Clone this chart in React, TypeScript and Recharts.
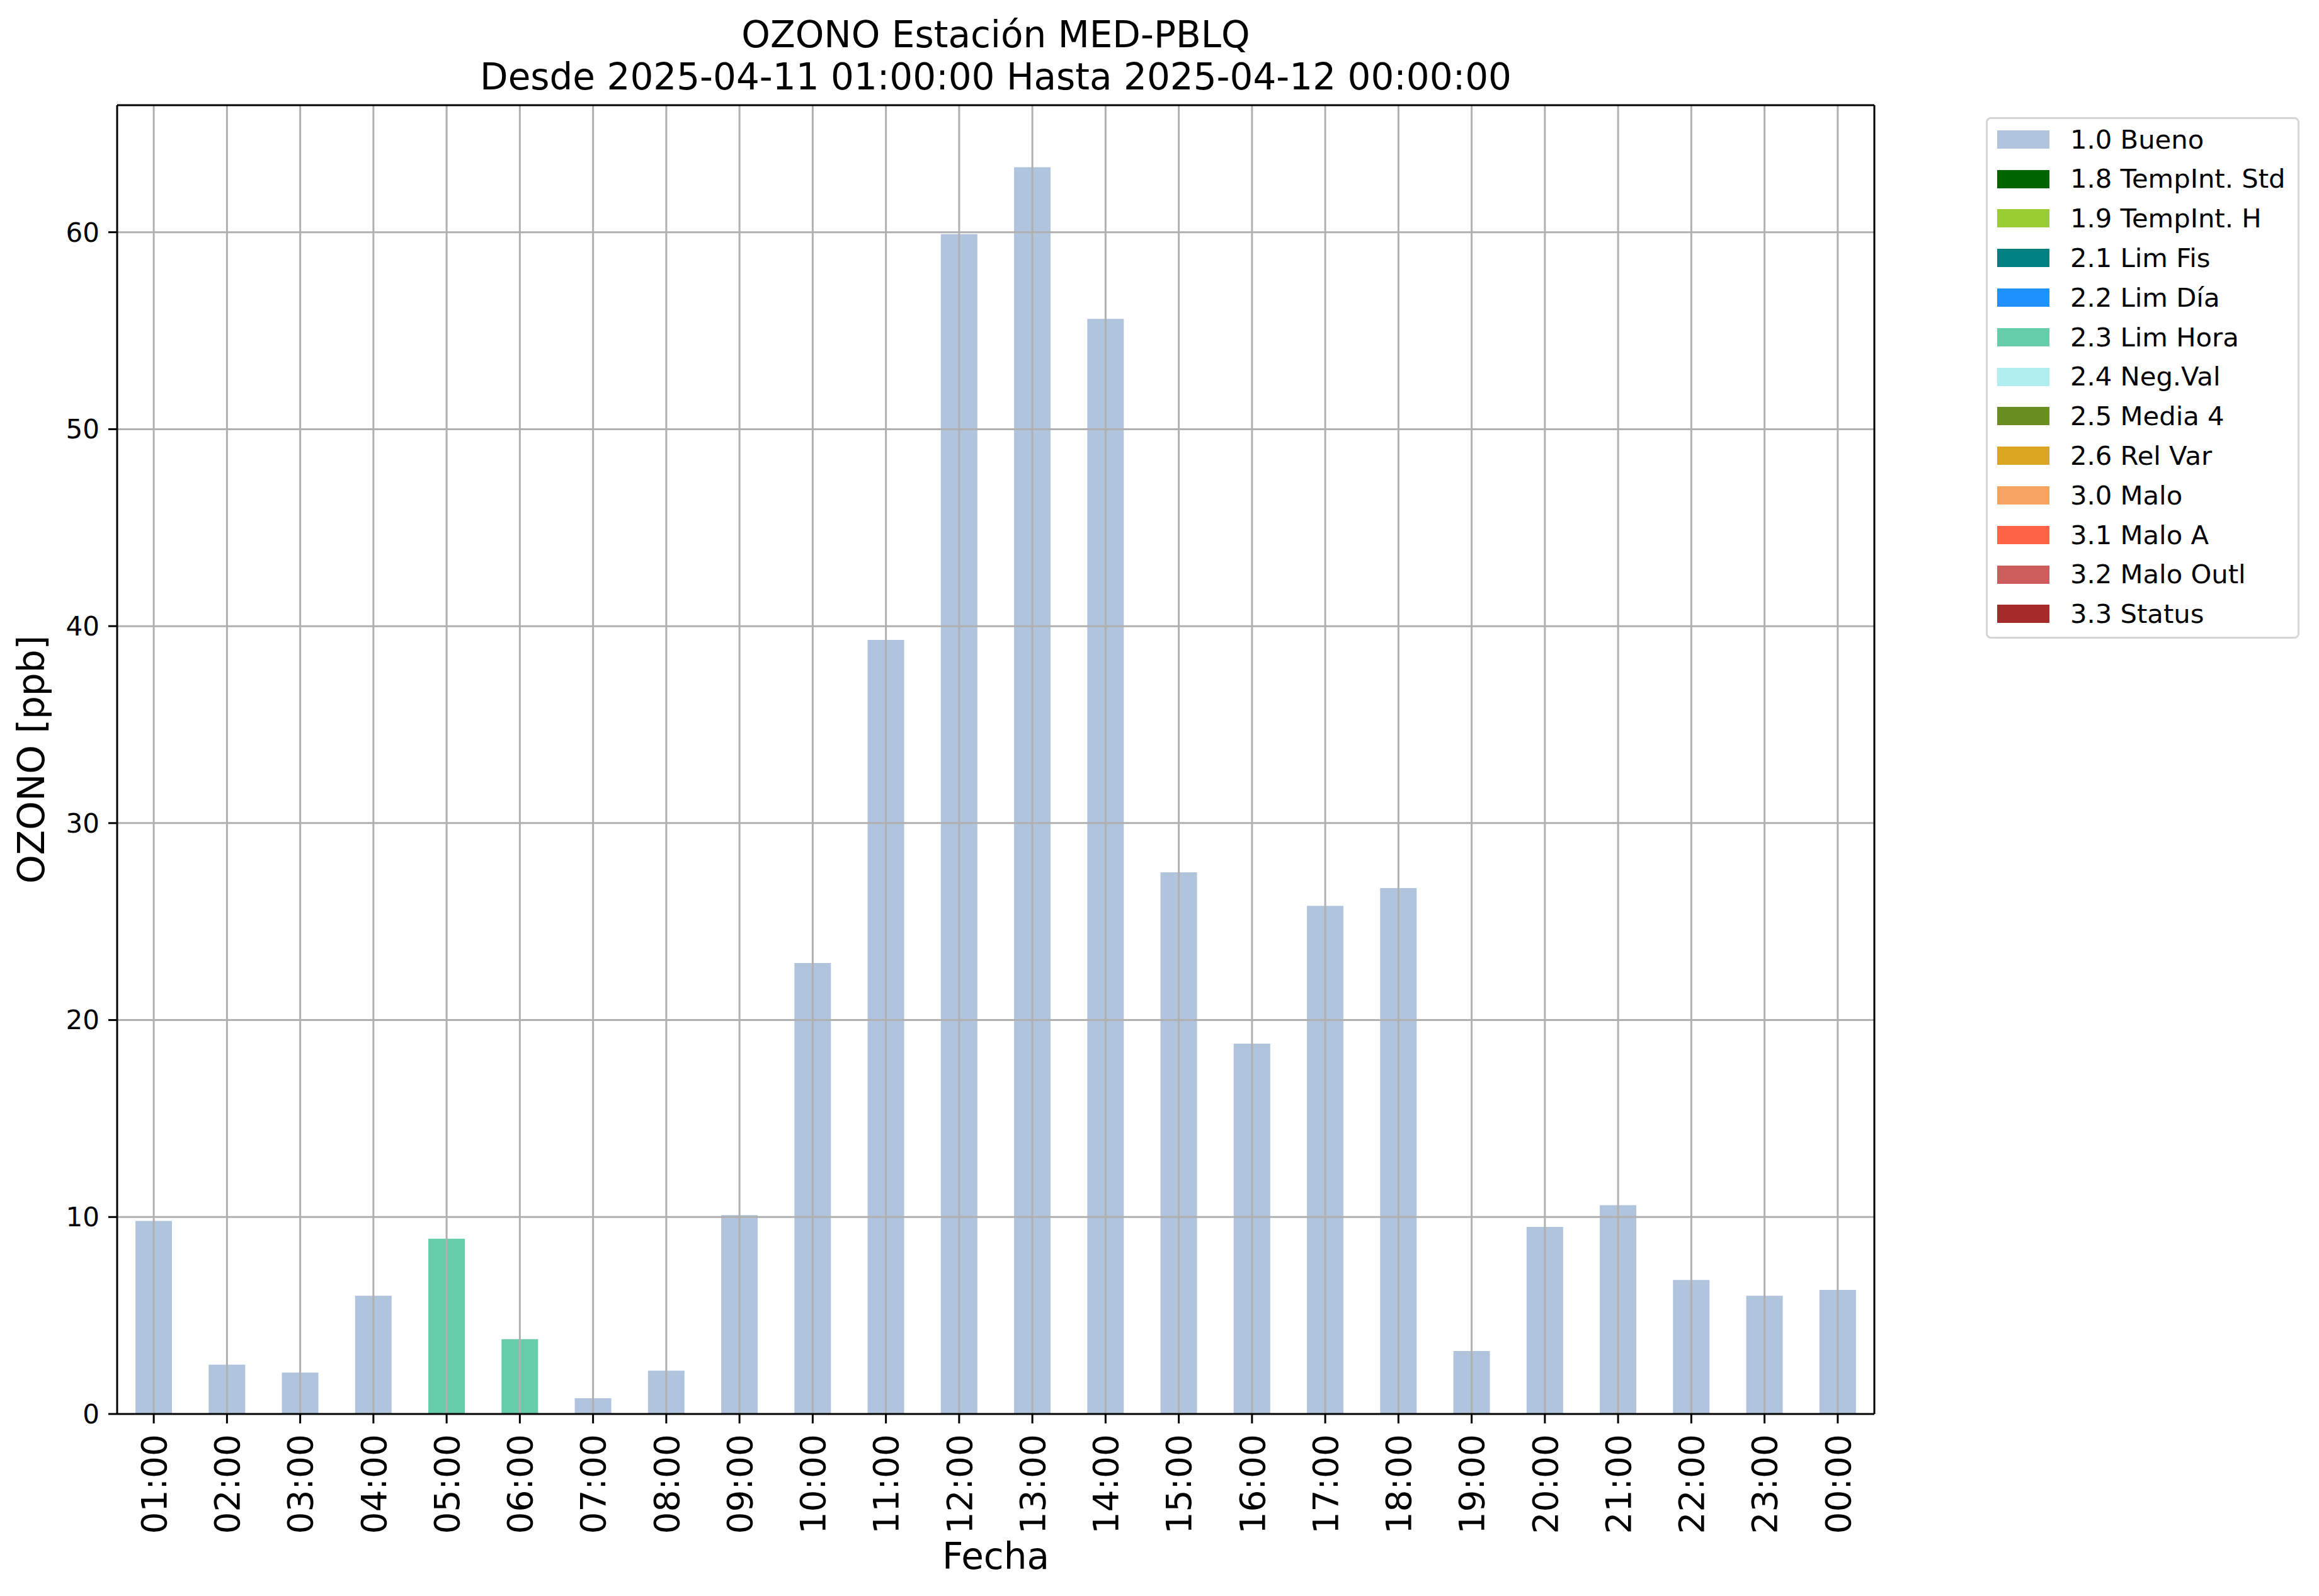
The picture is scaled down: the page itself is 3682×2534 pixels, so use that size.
import React from 'react';
import { BarChart, Bar, XAxis, YAxis, ReferenceLine, Legend } from 'recharts';

const hours = ['01:00', '02:00', '03:00', '04:00', '05:00', '06:00', '07:00', '08:00', '09:00', '10:00', '11:00', '12:00',
  '13:00', '14:00', '15:00', '16:00', '17:00', '18:00', '19:00', '20:00', '21:00', '22:00', '23:00', '00:00'];
const values = [9.8, 2.5, 2.1, 6.0, 8.9, 3.8, 0.8, 2.2, 10.1, 22.9, 39.3, 59.9,
  63.3, 55.6, 27.5, 18.8, 25.8, 26.7, 3.2, 9.5, 10.6, 6.8, 6.0, 6.3];
const statusCodes = ['1.0', '1.0', '1.0', '1.0', '2.3', '2.3', '1.0', '1.0', '1.0', '1.0', '1.0', '1.0',
  '1.0', '1.0', '1.0', '1.0', '1.0', '1.0', '1.0', '1.0', '1.0', '1.0', '1.0', '1.0'];
const legendCodes = ['1.0', '1.8', '1.9', '2.1', '2.2', '2.3', '2.4', '2.5', '2.6', '3.0', '3.1', '3.2', '3.3'];
const legendNames = ['1.0 Bueno', '1.8 TempInt. Std', '1.9 TempInt. H', '2.1 Lim Fis', '2.2 Lim Día', '2.3 Lim Hora',
  '2.4 Neg.Val', '2.5 Media 4', '2.6 Rel Var', '3.0 Malo', '3.1 Malo A', '3.2 Malo Outl', '3.3 Status'];
const legendColors = ['#b0c4de', '#006400', '#9acd32', '#008080', '#1e90ff', '#66cdaa', '#afeeee',
  '#6b8e23', '#daa520', '#f4a460', '#ff6347', '#cd5c5c', '#a52a2a'];
const yTicks = [0, 10, 20, 30, 40, 50, 60];
const yGrid = [10, 20, 30, 40, 50, 60];
const yMax = 66.45;
const titleLines = ['OZONO Estación MED-PBLQ', 'Desde 2025-04-11 01:00:00 Hasta 2025-04-12 00:00:00'];
const xLabel = 'Fecha';
const yLabel = 'OZONO [ppb]';

const FONT = '"DejaVu Sans", sans-serif';

const data = hours.map((h, i) => {
  const row: Record<string, any> = { hour: h };
  legendCodes.forEach((c, j) => {
    row['k' + j] = statusCodes[i] === c ? values[i] : 0;
  });
  return row;
});

const XTick = (props: any) => {
  const { x, y, payload } = props;
  return (
    <text
      transform={`translate(${x},${y}) rotate(-90)`}
      textAnchor="end"
      dy="0.36em"
      fontSize={55}
      fontFamily={FONT}
      fill="#000"
    >
      {payload.value}
    </text>
  );
};

const LegendBox = () => (
  <div
    style={{
      width: 498,
      height: 828,
      boxSizing: 'border-box',
      border: '3px solid #d6d6d6',
      borderRadius: 8,
      background: '#fff',
      paddingTop: 1,
      fontFamily: FONT,
      fontSize: 41.7,
      color: '#000',
    }}
  >
    {legendNames.map((n, i) => (
      <div key={n} style={{ height: 62.8, display: 'flex', alignItems: 'center', whiteSpace: 'nowrap' }}>
        <div style={{ width: 83, height: 29, marginLeft: 15, background: legendColors[i], flex: 'none' }} />
        <span style={{ marginLeft: 33, lineHeight: 1 }}>{n}</span>
      </div>
    ))}
  </div>
);

export default function App() {
  return (
    <div style={{ position: 'absolute', left: 0, top: 0, width: 3682, height: 2534, background: '#fff' }}>
      <BarChart
        width={3682}
        height={2534}
        data={data}
        margin={{ top: 165, right: 704, bottom: 33, left: 86 }}
        barCategoryGap="25%"
      >
        {legendCodes.map((c, j) => (
          <Bar
            key={c}
            dataKey={'k' + j}
            name={legendNames[j]}
            stackId="s"
            fill={legendColors[j]}
            isAnimationActive={false}
          />
        ))}
        {hours.map((h) => (
          <ReferenceLine key={'vx' + h} x={h} stroke="#b0b0b0" strokeWidth={3} />
        ))}
        {yGrid.map((v) => (
          <ReferenceLine key={'hy' + v} y={v} stroke="#b0b0b0" strokeWidth={3} />
        ))}
        <XAxis
          dataKey="hour"
          interval={0}
          tick={<XTick />}
          tickSize={15}
          tickMargin={17}
          height={256}
          axisLine={{ stroke: '#000', strokeWidth: 3 }}
          tickLine={{ stroke: '#000', strokeWidth: 3 }}
        />
        <XAxis
          xAxisId="top"
          orientation="top"
          dataKey="hour"
          height={2}
          tick={false}
          tickLine={false}
          axisLine={{ stroke: '#000', strokeWidth: 3 }}
        />
        <YAxis
          type="number"
          domain={[0, yMax]}
          ticks={yTicks}
          allowDataOverflow
          width={100}
          tickSize={14}
          tickMargin={14}
          tick={{ fill: '#000', fontSize: 42, fontFamily: FONT }}
          axisLine={{ stroke: '#000', strokeWidth: 3 }}
          tickLine={{ stroke: '#000', strokeWidth: 3 }}
        />
        <YAxis
          yAxisId="right"
          orientation="right"
          type="number"
          domain={[0, 1]}
          width={2}
          tick={false}
          tickLine={false}
          axisLine={{ stroke: '#000', strokeWidth: 3 }}
        />
        <Legend
          layout="vertical"
          align="center"
          verticalAlign="middle"
          wrapperStyle={{ left: 3153, top: 186, width: 498, height: 828 }}
          content={() => <LegendBox />}
        />
      </BarChart>
      <svg
        width={3682}
        height={2534}
        style={{ position: 'absolute', left: 0, top: 0, pointerEvents: 'none' }}
      >
        <text x={1581} y={75} textAnchor="middle" fontSize={58} fontFamily={FONT} fill="#000">
          {titleLines[0]}
        </text>
        <text x={1581} y={141.7} textAnchor="middle" fontSize={58} fontFamily={FONT} fill="#000">
          {titleLines[1]}
        </text>
        <text x={1581} y={2491} textAnchor="middle" fontSize={58} fontFamily={FONT} fill="#000">
          {xLabel}
        </text>
        <text
          transform="translate(70,1206) rotate(-90)"
          textAnchor="middle"
          fontSize={58}
          fontFamily={FONT}
          fill="#000"
        >
          {yLabel}
        </text>
      </svg>
    </div>
  );
}
